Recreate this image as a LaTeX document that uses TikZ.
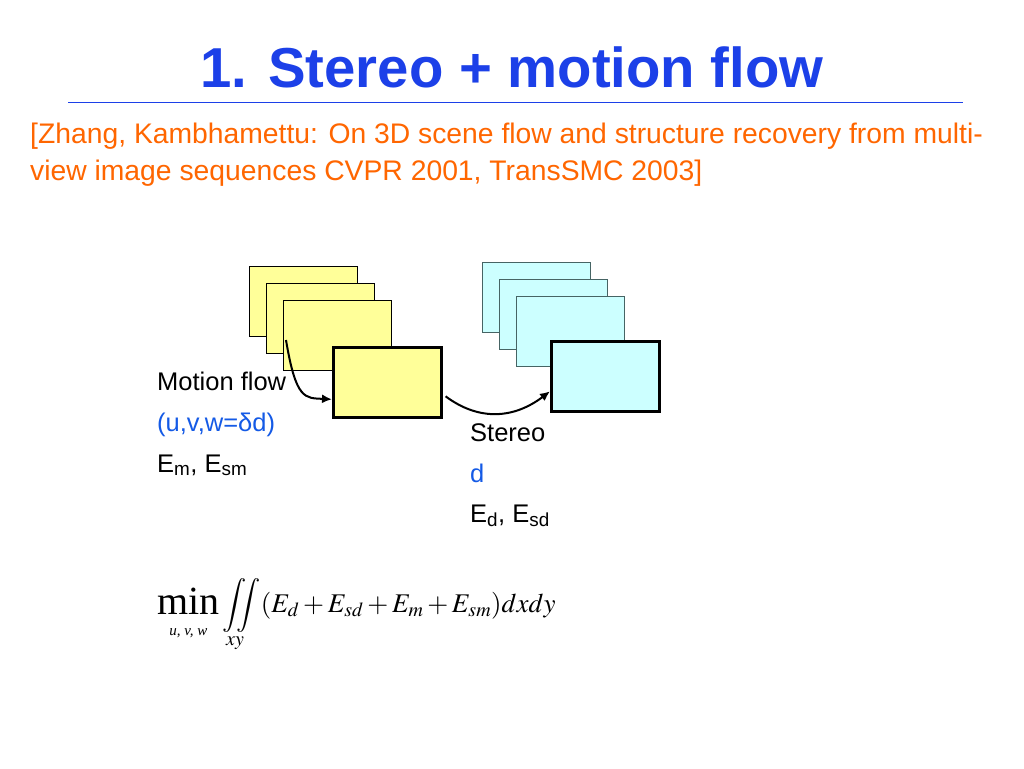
\documentclass[tikz,border=0pt]{standalone}
\usepackage{amsmath}
\usepackage{mathptmx}
\usepackage{fontspec}
\setmainfont{Liberation Sans}
\newfontfamily\timesfont{Liberation Serif}
\usetikzlibrary{arrows.meta}
\definecolor{titleblue}{RGB}{28,64,232}
\definecolor{citeorange}{RGB}{255,102,0}
\definecolor{labelblue}{RGB}{20,90,230}
\definecolor{ylw}{RGB}{255,255,153}
\definecolor{cyn}{RGB}{204,255,255}
\definecolor{cynedge}{RGB}{70,100,100}
\tikzset{
  frame/.style={minimum width=108pt, minimum height=70pt, anchor=north west, inner sep=0pt},
  yback/.style={frame, fill=ylw, draw=black, line width=1.2pt},
  cback/.style={frame, fill=cyn, draw=cynedge, line width=1.2pt},
  yfront/.style={frame, fill=ylw, draw=black, line width=2.6pt},
  cfront/.style={frame, fill=cyn, draw=black, line width=2.6pt},
  arr/.style={line width=2pt, -{Latex[length=10pt,width=9pt]}},
  lbl/.style={anchor=base west, inner sep=0pt, font=\fontsize{25.5}{28}\selectfont},
}
\begin{document}
\begin{tikzpicture}[x=1pt,y=-1pt]
\useasboundingbox[fill=white] (0,0) rectangle (1024,768);
\node[anchor=base, text=titleblue, font=\fontsize{56.3}{64}\selectfont\bfseries, inner sep=0pt] (title) at (512,87) {1. Stereo + motion flow};
\coordinate (l1) at (68,102);
\coordinate (l2) at (963,102);
\draw[titleblue, line width=1pt] (l1) -- (l2);
\node[anchor=base west, text=citeorange, font=\fontsize{28.3}{37}\selectfont, inner sep=0pt, align=left] (cite) at (30,180) {[Zhang, Kambhamettu: On 3D scene flow and structure recovery from multi-\\view image sequences CVPR 2001, TransSMC 2003]};

\node[yback] (y1) at (249,266) {};
\node[yback] (y2) at (266,283) {};
\node[yback] (y3) at (283,300) {};
\node[yfront] (yf) at (332,346) {};

\node[cback] (c1) at (482,262) {};
\node[cback] (c2) at (499,279) {};
\node[cback] (c3) at (516,296) {};
\node[cfront] (cf) at (550,340) {};

\coordinate (a1) at (286,340);
\draw[arr] (a1) .. controls (296,400) and (305,398) .. ([yshift=-17pt]yf.west);
\draw[arr] ([xshift=3pt,yshift=-14pt]yf.east) .. controls (480,422) and (515,418) .. ([yshift=-15pt]cf.west);

\node[lbl] (mf) at (157,390) {Motion flow};
\node[lbl, text=labelblue] (uvw) at (157,431) {(u,v,w=δd)};
\node[lbl] (em) at (157,472) {E\textsubscript{m}, E\textsubscript{sm}};
\node[lbl] (st) at (470,441) {Stereo};
\node[lbl, text=labelblue] (dd) at (470,482) {d};
\node[lbl] (ed) at (470,522) {E\textsubscript{d}, E\textsubscript{sd}};

\node[anchor=base west, inner sep=0pt, font=\fontsize{40}{42}\timesfont] (mn) at (157,614) {min};
\node[anchor=base, inner sep=0pt, font=\fontsize{15}{16}\timesfont\itshape] (mnsub) at ([yshift=-21pt]mn.base) {u, v, w};
\node[anchor=base west, inner sep=0pt, font=\fontsize{27}{30}\selectfont] (eq) at ([xshift=3pt,yshift=2pt]mn.base east)
  {$\displaystyle \iint\limits_{\raisebox{4pt}{$\scriptstyle xy$}}(E_d+E_{sd}+E_m+E_{sm})dxdy$};
\end{tikzpicture}
\end{document}
